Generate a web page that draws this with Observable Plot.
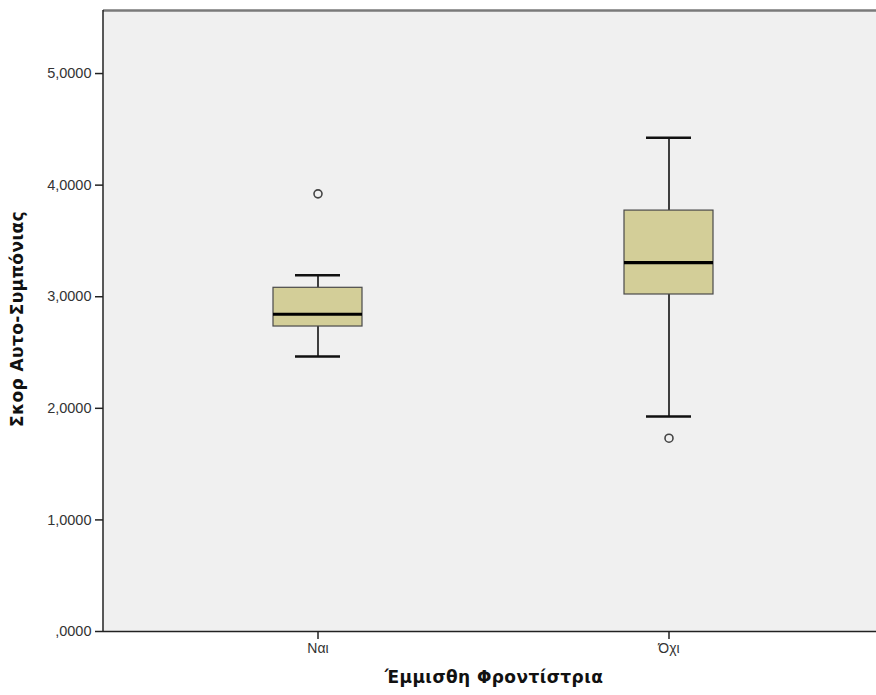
<!DOCTYPE html>
<html>
<head>
<meta charset="utf-8">
<script src="https://cdn.jsdelivr.net/npm/d3@7"></script>
<script src="https://cdn.jsdelivr.net/npm/@observablehq/plot@0.6"></script>
<style>
  html, body { margin: 0; padding: 0; background: #ffffff; }
  #chart svg { display: block; }
  #chart svg .axis-title { letter-spacing: 0.4px; }
</style>
</head>
<body>
<div id="chart"></div>
<script>
// Groups on the x axis
const groups = ["Ναι", "Όχι"];

// Box-plot summary per group
const whiskerLow = [2.464, 1.927];
const q1 = [2.733, 3.020];
const median = [2.843, 3.306];
const q3 = [3.080, 3.772];
const whiskerHigh = [3.193, 4.424];

// Outliers drawn as open circles
const outlierGroup = ["Ναι", "Όχι"];
const outlierValue = [3.922, 1.732];

// Axis ticks and titles
const yTicks = [0, 1, 2, 3, 4, 5];
const yMax = 5.565;
const xTitle = "Έμμισθη Φροντίστρια";
const yTitle = "Σκορ Αυτο-Συμπόνιας";

const boxes = groups.map((g, i) => ({
  group: g,
  low: whiskerLow[i],
  q1: q1[i],
  median: median[i],
  q3: q3[i],
  high: whiskerHigh[i]
}));
const outliers = outlierGroup.map((g, i) => ({group: g, value: outlierValue[i]}));

// SPSS-style number format: comma decimal, four places, no leading zero for 0
const fmt = d => {
  const s = d.toFixed(4).replace(".", ",");
  return s.startsWith("0,") ? s.slice(1) : s;
};

const font = "'Liberation Sans', Arial, sans-serif";
const titleFont = "'DejaVu Sans', Verdana, sans-serif";

const chart = Plot.plot({
  width: 876,
  height: 695,
  marginLeft: 103,
  marginRight: 0,
  marginTop: 10,
  marginBottom: 64,
  style: {fontFamily: font, background: "#ffffff", color: "#222"},
  x: {
    type: "band",
    domain: groups,
    paddingInner: 0.747,
    paddingOuter: 0.473,
    align: 0.51,
    axis: null
  },
  y: {domain: [0, yMax], axis: null},
  marks: [
    // plot background
    Plot.frame({fill: "#f0f0f0", stroke: null}),
    // top border
    Plot.ruleY([yMax], {stroke: "#7a7a7a", strokeWidth: 2.5}),
    // left axis line
    (index, scales, values, dims) => {
      const line = d3.create("svg:line")
        .attr("x1", dims.marginLeft).attr("x2", dims.marginLeft)
        .attr("y1", dims.marginTop).attr("y2", dims.height - dims.marginBottom)
        .attr("stroke", "#222").attr("stroke-width", 1.5);
      return line.node();
    },
    // bottom axis line
    Plot.ruleY([0], {stroke: "#222", strokeWidth: 1.5}),
    Plot.axisY({
      ticks: yTicks,
      tickFormat: fmt,
      tickSize: 8,
      tickPadding: 4,
      fontSize: 14.5,
      stroke: "#222",
      strokeWidth: 1.5,
      fill: "#333",
      label: null
    }),
    Plot.axisX({
      tickSize: 8,
      tickPadding: 4,
      fontSize: 14,
      stroke: "#222",
      strokeWidth: 1.5,
      fill: "#333",
      label: null
    }),
    // whiskers
    Plot.ruleX(boxes, {x: "group", y1: "low", y2: "q1", stroke: "#111", strokeWidth: 1.6}),
    Plot.ruleX(boxes, {x: "group", y1: "q3", y2: "high", stroke: "#111", strokeWidth: 1.6}),
    // whisker caps
    Plot.tickY(boxes, {x: "group", y: "low", stroke: "#111", strokeWidth: 2.5, insetLeft: 22, insetRight: 22}),
    Plot.tickY(boxes, {x: "group", y: "high", stroke: "#111", strokeWidth: 2.5, insetLeft: 22, insetRight: 22}),
    // boxes
    Plot.barY(boxes, {x: "group", y1: "q1", y2: "q3", fill: "#d3ce98", stroke: "#4a4a4a", strokeWidth: 1.2}),
    // medians
    Plot.tickY(boxes, {x: "group", y: "median", stroke: "#000", strokeWidth: 3.2}),
    // outliers
    Plot.dot(outliers, {x: "group", y: "value", r: 4, stroke: "#444", strokeWidth: 1.6, fill: "none"}),
    // axis titles
    Plot.text([yTitle], {
      text: d => d, frameAnchor: "left", textAnchor: "middle", dx: -86, dy: -2, rotate: -90,
      fontFamily: titleFont, fontSize: 17, fontWeight: "bold", fill: "#111",
      className: "axis-title"
    }),
    Plot.text([xTitle], {
      text: d => d, frameAnchor: "bottom", textAnchor: "middle", dy: 51, dx: 4,
      fontFamily: titleFont, fontSize: 17, fontWeight: "bold", fill: "#111",
      className: "axis-title"
    })
  ]
});

document.getElementById("chart").appendChild(chart);
</script>
</body>
</html>
